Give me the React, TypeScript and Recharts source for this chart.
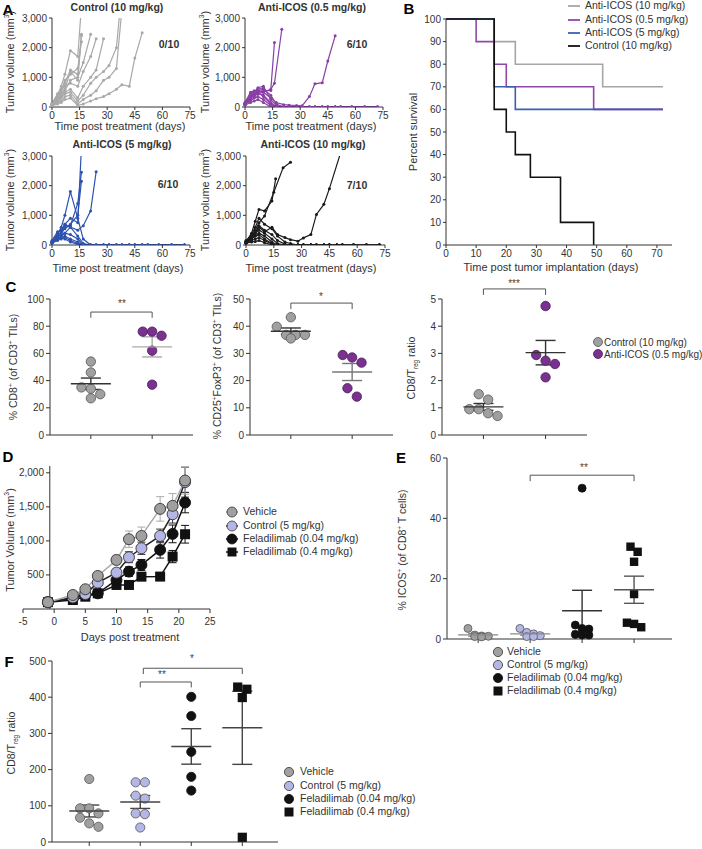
import React from "react";
import {
  LineChart,
  Line,
  ScatterChart,
  Scatter,
  ComposedChart,
  XAxis,
  YAxis,
  ErrorBar,
  ReferenceLine,
} from "recharts";

const FONT = "'Liberation Sans', Arial, Helvetica, sans-serif";
const INK = "#333";
const TICK = { fontSize: 10, fill: INK, fontFamily: FONT };

// ---- A: tumour volume per mouse, [day, mm3] ----
const freeDays = [21, 24, 28, 31, 35, 38, 42, 45, 49, 52, 58, 65, 72];

const controlMice = [
  [[0, 120], [3, 400], [5, 700], [7, 1100], [10, 1900], [14, 1700], [16, 3400]],
  [[0, 90], [3, 300], [5, 500], [7, 800], [10, 1250], [14, 1100], [16, 2450]],
  [[0, 70], [3, 250], [5, 400], [7, 600], [10, 1200], [14, 900], [16, 2400]],
  [[0, 100], [3, 350], [5, 550], [7, 900], [10, 1100], [14, 1300], [16, 2200]],
  [[0, 80], [3, 200], [5, 400], [7, 550], [10, 900], [14, 1000], [17, 1500], [21, 2450]],
  [[0, 110], [3, 450], [5, 600], [7, 700], [10, 800], [14, 700], [17, 1200], [21, 1700], [24, 2300]],
  [[0, 60], [3, 150], [5, 300], [7, 500], [10, 600], [14, 300], [17, 700], [21, 1000], [24, 1250], [28, 2300]],
  [[0, 90], [3, 200], [5, 350], [7, 450], [10, 500], [14, 200], [17, 400], [21, 800], [24, 1000], [28, 1200], [31, 1400], [35, 2000], [37, 3300]],
  [[0, 50], [3, 150], [5, 200], [7, 350], [10, 400], [14, 100], [17, 250], [21, 400], [24, 550], [28, 900], [31, 1000], [35, 1300], [38, 3300]],
  [[0, 40], [3, 100], [5, 150], [7, 250], [10, 300], [14, 50], [17, 100], [21, 200], [24, 280], [28, 350], [31, 450], [35, 600], [38, 750], [42, 700], [45, 1650], [49, 2500]],
];

const icos05Mice = [
  [[0, 100], [3, 300], [5, 450], [7, 500], [10, 550], [14, 560], [16, 2170]],
  [[0, 120], [3, 350], [5, 400], [7, 450], [10, 500], [14, 600], [16, 800], [20, 2620]],
  [[0, 100], [3, 400], [5, 450], [7, 550], [10, 500], [14, 300], [17, 150], [21, 80], [24, 60], [28, 50], [31, 40], [35, 350], [38, 780], [42, 820], [45, 1550], [49, 2400]],
  [[0, 130], [3, 450], [5, 500], [7, 650], [10, 700], [14, 250], [17, 50], [21, 0]],
  [[0, 90], [3, 300], [5, 400], [7, 550], [10, 600], [14, 400], [17, 100], [21, 0]],
  [[0, 70], [3, 250], [5, 350], [7, 450], [10, 400], [14, 150], [17, 0]],
  [[0, 150], [3, 500], [5, 550], [7, 500], [10, 350], [14, 100], [17, 0]],
  [[0, 100], [3, 200], [5, 300], [7, 350], [10, 250], [14, 50], [17, 0]],
  [[0, 60], [3, 150], [5, 200], [7, 250], [10, 150], [14, 0]],
  [[0, 110], [3, 350], [5, 500], [7, 600], [10, 650]],
];

const icos5Mice = [
  [[0, 100], [3, 300], [5, 450], [7, 700], [10, 900], [14, 750], [16, 3300]],
  [[0, 80], [3, 250], [5, 350], [7, 600], [10, 650], [14, 1400], [16, 2450]],
  [[0, 120], [3, 400], [5, 500], [7, 550], [10, 700], [14, 1000], [16, 2150]],
  [[0, 100], [3, 200], [5, 300], [7, 400], [10, 600], [14, 500], [17, 650], [21, 1150], [24, 2470]],
  [[0, 100], [3, 350], [5, 600], [7, 1000], [10, 1800], [14, 900], [17, 200], [21, 0]],
  [[0, 150], [3, 450], [5, 500], [7, 700], [10, 600], [14, 300], [17, 50], [21, 0]],
  [[0, 100], [3, 300], [5, 350], [7, 400], [10, 350], [14, 200], [17, 0]],
  [[0, 80], [3, 200], [5, 250], [7, 300], [10, 200], [14, 100], [17, 0]],
  [[0, 60], [3, 150], [5, 200], [7, 250], [10, 150], [14, 50], [17, 0]],
  [[0, 100], [3, 200], [5, 250], [7, 200], [10, 100], [14, 20], [17, 0]],
];

const icos10Mice = [
  [[0, 100], [3, 400], [5, 800], [7, 1200], [10, 1150], [14, 1480], [16, 2230]],
  [[0, 80], [3, 300], [5, 500], [7, 750], [10, 980], [15, 1780], [20, 2600], [24, 2790]],
  [[0, 100], [3, 250], [5, 400], [7, 600], [10, 450], [14, 600], [17, 350], [21, 250], [24, 180], [28, 130], [31, 240], [35, 350], [38, 1030], [42, 1370], [45, 1900], [52, 3300]],
  [[0, 150], [3, 350], [5, 600], [7, 900], [10, 700], [14, 550], [17, 300], [21, 100], [24, 50], [28, 0]],
  [[0, 80], [3, 250], [5, 400], [7, 650], [10, 500], [14, 350], [17, 150], [21, 30], [24, 0]],
  [[0, 100], [3, 300], [5, 400], [7, 500], [10, 400], [14, 200], [17, 50], [21, 0]],
  [[0, 60], [3, 200], [5, 300], [7, 400], [10, 300], [14, 100], [17, 0]],
  [[0, 120], [3, 250], [5, 300], [7, 350], [10, 200], [14, 50], [17, 0]],
  [[0, 90], [3, 150], [5, 200], [7, 250], [10, 150], [14, 30], [17, 0]],
  [[0, 70], [3, 100], [5, 120], [7, 150], [10, 80], [14, 0]],
];

// ---- B: percent survival, [day, %] ----
const survIcos10 = [[0, 100], [16, 90], [23, 80], [52, 70], [72, 70]];
const survIcos05 = [[0, 100], [10, 90], [16, 80], [20, 70], [49, 60], [72, 60]];
const survIcos5 = [[0, 100], [16, 70], [23, 60], [72, 60]];
const survControl = [[0, 100], [16, 60], [20, 50], [23, 40], [28, 30], [38, 10], [49, 0]];

// ---- C: TIL phenotypes ----
const cd8Control = [54, 46, 35, 34, 30, 27];
const cd8Icos = [76, 76, 73, 62, 37];
const tregControl = [43.3, 39.8, 36.8, 36.8, 36.8, 35.5];
const tregIcos = [29.4, 28.5, 26.6, 17.2, 14.1];
const ratioControl = [1.5, 1.3, 0.95, 0.95, 0.8, 0.7];
const ratioIcos = [4.74, 2.94, 2.73, 2.61, 2.12];

// ---- D: mean tumour volume ----
const dDays = [-1, 3, 5, 7, 10, 12, 14, 17, 19, 21];
const vehMean = [100, 206, 290, 485, 720, 1025, 1073, 1470, 1515, 1887];
const vehSem = [10, 20, 25, 40, 70, 120, 130, 180, 180, 200];
const ctlMean = [100, 170, 220, 387, 534, 760, 892, 1073, 1392, 1863];
const ctlSem = [10, 15, 20, 30, 50, 80, 90, 100, 130, 220];
const fLowMean = [100, 157, 206, 230, 426, 549, 647, 868, 1103, 1563];
const fLowSem = [10, 15, 20, 25, 60, 70, 80, 120, 130, 150];
const fHighMean = [100, 132, 181, 230, 353, 353, 475, 476, 770, 1098];
const fHighSem = [10, 10, 15, 20, 40, 40, 50, 50, 90, 130];

// ---- E: % ICOS+ of CD8+ ----
const icosVeh = [1.0, 0.9, 0.8, 1.3, 3.5, 0.7];
const icosCtl = [1.7, 1.1, 2.2, 0.8, 3.5, 0.8];
const icosFLow = [50, 3.5, 3.3, 1.5, 4.6, 1.3, 1.3];
const icosFHigh = [25.6, 30.6, 28.9, 14.9, 5.4, 5.0, 3.9];

// ---- F: CD8/Treg ratio ----
const ratioVeh = [174, 93, 93, 79, 67, 51.5, 42];
const ratioCtl = [165, 165, 128, 120, 79, 77, 40];
const ratioFLow = [401, 348, 249, 180, 142];
const ratioFHigh = [428, 422, 399, 13];

// colours
const A_GRAY = "#a9a9a9";
const A_PURPLE = "#8a3fa6";
const A_BLUE = "#2d52b0";
const A_BLACK = "#1a1a1a";
const DOT_GRAY = "#a0a0a0";
const DOT_PURPLE = "#7a3190";
const LAV = "#b4b7e5";
const BLK = "#111";

const comma = (v: number) => v.toLocaleString("en-US");
const mean = (a: number[]) => a.reduce((s, v) => s + v, 0) / a.length;
const sem = (a: number[]) => {
  const m = mean(a);
  return Math.sqrt(a.reduce((s, v) => s + (v - m) ** 2, 0) / (a.length - 1) / a.length);
};

const track = (pts: number[][]) => {
  const last = pts[pts.length - 1];
  const tail = last[1] === 0 ? freeDays.filter((d) => d > last[0]).map((d) => [d, 0]) : [];
  return [...pts, ...tail].map(([d, v]) => ({ d, v }));
};
const steps = (pts: number[][]) => pts.map(([d, v]) => ({ d, v }));

// GraphPad-like scatter spread: rows of close values are spread symmetrically
function swarm(vals: number[], at: number, pxX: number, pxY: number, diam: number, gap: number) {
  const sorted = [...vals].sort((a, b) => b - a);
  const rows: number[][] = [];
  for (const v of sorted) {
    const row = rows[rows.length - 1];
    if (row && (row[0] - v) * pxY < diam) row.push(v);
    else rows.push([v]);
  }
  return rows.flatMap((row) => row.map((v, k) => ({ x: at + ((k - (row.length - 1) / 2) * gap) / pxX, y: v })));
}

type Box = { x0: number; y0: number; x1: number; y1: number };
function frame(b: Box, l: number, t: number, r: number, bt: number) {
  return {
    style: { position: "absolute" as const, left: b.x0 - l, top: b.y0 - t },
    width: b.x1 - b.x0 + l + r,
    height: b.y1 - b.y0 + t + bt,
    margin: { top: t, right: r, bottom: 0, left: 0 },
    yw: l,
    xh: bt,
  };
}

function T({ x, y, children, size = 11, bold = false, rotate = false, anchor = "middle", color = INK }: any) {
  const tx = anchor === "middle" ? "-50%" : anchor === "end" ? "-100%" : "0";
  return (
    <div
      style={{
        position: "absolute",
        left: x,
        top: y,
        transform: `translate(${tx}, -50%)${rotate ? " rotate(-90deg)" : ""}`,
        fontSize: size,
        fontWeight: bold ? 700 : 400,
        whiteSpace: "nowrap",
        lineHeight: 1.1,
        color,
      }}
    >
      {children}
    </div>
  );
}

function Key({ x, y, tx, label, size = 10.5, children }: any) {
  return (
    <>
      <svg width={24} height={14} style={{ position: "absolute", left: x - 12, top: y - 7, overflow: "visible" }}>
        {children}
      </svg>
      <T x={tx} y={y} size={size} anchor="start">
        {label}
      </T>
    </>
  );
}

function MiceChart({ box, mice, color }: any) {
  const f = frame(box, 40, 6, 8, 18);
  return (
    <div style={f.style}>
      <LineChart width={f.width} height={f.height} margin={f.margin}>
        <XAxis type="number" dataKey="d" domain={[0, 75]} ticks={[0, 15, 30, 45, 60, 75]} interval={0} height={f.xh} tick={TICK} tickSize={3} stroke={INK} />
        <YAxis type="number" domain={[0, 3000]} ticks={[0, 1000, 2000, 3000]} interval={0} allowDataOverflow width={f.yw} tick={TICK} tickSize={3} stroke={INK} tickFormatter={comma} />
        {mice.map((m: number[][], i: number) => (
          <Line
            key={i}
            data={track(m)}
            dataKey="v"
            stroke={color}
            strokeWidth={1.2}
            dot={{ r: 1.5, fill: color, stroke: color, strokeWidth: 0 }}
            isAnimationActive={false}
          />
        ))}
      </LineChart>
    </div>
  );
}

const bracketLines = (b: any, key: string) => [
  <ReferenceLine key={key + "h"} segment={[{ x: b.x1, y: b.y }, { x: b.x2, y: b.y }]} stroke="#555" ifOverflow="visible" />,
  <ReferenceLine key={key + "l"} segment={[{ x: b.x1, y: b.y }, { x: b.x1, y: b.leg }]} stroke="#555" ifOverflow="visible" />,
  <ReferenceLine key={key + "r"} segment={[{ x: b.x2, y: b.y }, { x: b.x2, y: b.leg }]} stroke="#555" ifOverflow="visible" />,
];

function DotPlot({ box, xMax, yMax, yTicks, groups, brackets = [], t = 8, gapK = 1 }: any) {
  const f = frame(box, 34, t, 6, 10);
  const pxX = (box.x1 - box.x0) / xMax;
  const pxY = (box.y1 - box.y0) / yMax;
  return (
    <div style={f.style}>
      <ScatterChart width={f.width} height={f.height} margin={f.margin}>
        <XAxis type="number" dataKey="x" domain={[0, xMax]} ticks={groups.map((g: any) => g.at)} interval={0} tickFormatter={() => ""} height={f.xh} tickSize={4} stroke={INK} />
        <YAxis type="number" dataKey="y" domain={[0, yMax]} ticks={yTicks} interval={0} width={f.yw} tick={TICK} tickSize={4} stroke={INK} />
        {brackets.flatMap((b: any, i: number) => bracketLines(b, "b" + i))}
        {groups.map((g: any, i: number) => (
          <Scatter
            key={"p" + i}
            data={swarm(g.vals, g.at, pxX, pxY, 2 * g.r, 2 * g.r * gapK)}
            isAnimationActive={false}
            shape={(p: any) =>
              g.square ? (
                <rect x={p.cx - g.r} y={p.cy - g.r} width={2 * g.r} height={2 * g.r} fill={g.fill} />
              ) : (
                <circle cx={p.cx} cy={p.cy} r={g.r} fill={g.fill} stroke={g.stroke} strokeWidth={0.8} />
              )
            }
          />
        ))}
        {groups.map((g: any, i: number) => (
          <Scatter
            key={"m" + i}
            data={[{ x: g.at, y: mean(g.vals), e: sem(g.vals) }]}
            isAnimationActive={false}
            shape={(p: any) => (
              <line x1={p.cx - 20} x2={p.cx + 20} y1={p.cy} y2={p.cy} stroke={g.meanColor || "#444"} strokeWidth={1.4} />
            )}
          >
            <ErrorBar dataKey="e" direction="y" width={10} stroke={g.meanColor || "#444"} strokeWidth={1.4} />
          </Scatter>
        ))}
      </ScatterChart>
    </div>
  );
}

const dTable = dDays.map((d, i) => ({
  d,
  veh: vehMean[i],
  vehE: vehSem[i],
  ctl: ctlMean[i],
  ctlE: ctlSem[i],
  lo: fLowMean[i],
  loE: fLowSem[i],
  hi: fHighMean[i],
  hiE: fHighSem[i],
}));

function GrowthChart() {
  const box = { x0: 23, y0: 466, x1: 210, y1: 609 };
  const f = frame(box, 20, 8, 8, 22);
  const axisShift = 27; // y axis drawn near day -0.7, not at the plot edge
  const yTick = (p: any) => (
    <g>
      <line x1={f.yw + axisShift - 4} x2={f.yw + axisShift} y1={p.y} y2={p.y} stroke={INK} />
      <text x={f.yw + axisShift - 6} y={p.y} dy={3.5} textAnchor="end" {...TICK}>
        {comma(p.payload.value)}
      </text>
    </g>
  );
  const circle = (fill: string, stroke: string) => (p: any) => (
    <circle key={p.index} cx={p.cx} cy={p.cy} r={5.5} fill={fill} stroke={stroke} strokeWidth={0.9} />
  );
  const square = (p: any) => <rect key={p.index} x={p.cx - 5} y={p.cy - 5} width={10} height={10} fill={BLK} />;
  return (
    <div style={f.style}>
      <ComposedChart width={f.width} height={f.height} margin={f.margin} data={dTable}>
        <XAxis type="number" dataKey="d" domain={[-5, 25]} ticks={[-5, 0, 5, 10, 15, 20, 25]} interval={0} height={f.xh} tick={TICK} tickSize={4} tickMargin={5} stroke={INK} />
        <YAxis type="number" domain={[0, 2100]} ticks={[500, 1000, 1500, 2000]} interval={0} width={f.yw} axisLine={false} tickLine={false} tick={yTick} />
        <ReferenceLine x={-0.7} stroke={INK} />
        <Line dataKey="hi" stroke={BLK} strokeWidth={1.5} dot={square} isAnimationActive={false}>
          <ErrorBar dataKey="hiE" width={4} stroke={BLK} strokeWidth={1} />
        </Line>
        <Line dataKey="lo" stroke={BLK} strokeWidth={1.5} dot={circle(BLK, BLK)} isAnimationActive={false}>
          <ErrorBar dataKey="loE" width={4} stroke={BLK} strokeWidth={1} />
        </Line>
        <Line dataKey="ctl" stroke="#222" strokeWidth={1.5} dot={circle(LAV, "#333")} isAnimationActive={false}>
          <ErrorBar dataKey="ctlE" width={4} stroke="#333" strokeWidth={1} />
        </Line>
        <Line dataKey="veh" stroke="#aaa" strokeWidth={1.5} dot={circle(DOT_GRAY, "#333")} isAnimationActive={false}>
          <ErrorBar dataKey="vehE" width={4} stroke="#aaa" strokeWidth={1} />
        </Line>
      </ComposedChart>
    </div>
  );
}

function SurvivalChart() {
  const box = { x0: 446, y0: 19, x1: 672, y1: 245 };
  const f = frame(box, 30, 8, 8, 18);
  const series = [
    { d: survIcos10, c: "#a6a6a6" },
    { d: survIcos05, c: "#9146ac" },
    { d: survIcos5, c: "#3c5fb5" },
    { d: survControl, c: "#111" },
  ];
  return (
    <div style={f.style}>
      <LineChart width={f.width} height={f.height} margin={f.margin}>
        <XAxis type="number" dataKey="d" domain={[0, 75]} ticks={[0, 10, 20, 30, 40, 50, 60, 70]} interval={0} height={f.xh} tick={TICK} tickSize={3} stroke={INK} />
        <YAxis type="number" domain={[0, 100]} ticks={[0, 10, 20, 30, 40, 50, 60, 70, 80, 90, 100]} interval={0} width={f.yw} tick={TICK} tickSize={3} stroke={INK} />
        {series.map((s, i) => (
          <Line key={i} type="stepAfter" data={steps(s.d)} dataKey="v" stroke={s.c} strokeWidth={1.6} dot={false} isAnimationActive={false} />
        ))}
      </LineChart>
    </div>
  );
}

const sup = (s: string) => <sup style={{ fontSize: "0.62em", lineHeight: 0 }}>{s}</sup>;
const sub = (s: string) => <sub style={{ fontSize: "0.6em", lineHeight: 0 }}>{s}</sub>;

export default function App() {
  const cGroups = (ctl: number[], icos: number[], icosMean: string) => [
    { vals: ctl, at: 1, r: 4.7, fill: DOT_GRAY, stroke: "#555", meanColor: "#333" },
    { vals: icos, at: 2.5, r: 4.7, fill: DOT_PURPLE, stroke: "#4a1d58", meanColor: icosMean },
  ];
  const eGroups = [
    { vals: icosVeh, at: 0.6, r: 4, fill: DOT_GRAY, stroke: "#555", meanColor: "#888" },
    { vals: icosCtl, at: 1.6, r: 4, fill: LAV, stroke: "#555", meanColor: "#888" },
    { vals: icosFLow, at: 2.6, r: 4, fill: BLK, stroke: BLK, meanColor: "#333" },
    { vals: icosFHigh, at: 3.6, r: 4.2, fill: BLK, stroke: BLK, meanColor: "#555", square: true },
  ];
  const fGroups = [
    { vals: ratioVeh, at: 0.73, r: 4.6, fill: DOT_GRAY, stroke: "#555", meanColor: "#444" },
    { vals: ratioCtl, at: 1.73, r: 4.6, fill: LAV, stroke: "#555", meanColor: "#444" },
    { vals: ratioFLow, at: 2.73, r: 4.6, fill: BLK, stroke: BLK, meanColor: "#444" },
    { vals: ratioFHigh, at: 3.73, r: 4.6, fill: BLK, stroke: BLK, meanColor: "#444", square: true },
  ];
  const legend4 = (x: number, tx: number, rows: number[], line: boolean) => {
    const items = [
      { label: "Vehicle", fill: DOT_GRAY, stroke: "#333", sq: false, lc: "#aaa" },
      { label: "Control (5 mg/kg)", fill: LAV, stroke: "#333", sq: false, lc: "#333" },
      { label: "Feladilimab (0.04 mg/kg)", fill: BLK, stroke: BLK, sq: false, lc: BLK },
      { label: "Feladilimab (0.4 mg/kg)", fill: BLK, stroke: BLK, sq: true, lc: BLK },
    ];
    return items.map((it, i) => (
      <Key key={it.label} x={x} y={rows[i]} tx={tx} label={it.label}>
        {line && <line x1={6} x2={18} y1={7} y2={7} stroke={it.lc} strokeWidth={1.5} />}
        {it.sq ? (
          <rect x={7.5} y={2.5} width={9} height={9} fill={BLK} />
        ) : (
          <circle cx={12} cy={7} r={line ? 5 : 4.6} fill={it.fill} stroke={it.stroke} strokeWidth={0.8} />
        )}
      </Key>
    ));
  };

  return (
    <div style={{ position: "relative", width: 702, height: 849, background: "#fff", fontFamily: FONT, color: INK, overflow: "hidden" }}>
      <style>{"body{margin:0}"}</style>

      {/* A */}
      <T x={8} y={10} size={15} bold color="#000">A</T>
      <T x={117} y={8} size={10.5} bold>Control (10 mg/kg)</T>
      <T x={312} y={8} size={10.5} bold>Anti-ICOS (0.5 mg/kg)</T>
      <T x={122} y={145} size={10.5} bold>Anti-ICOS (5 mg/kg)</T>
      <T x={313} y={145} size={10.5} bold>Anti-ICOS (10 mg/kg)</T>
      <MiceChart box={{ x0: 52, y0: 18, x1: 190, y1: 107 }} mice={controlMice} color={A_GRAY} />
      <MiceChart box={{ x0: 245, y0: 18, x1: 383, y1: 107 }} mice={icos05Mice} color={A_PURPLE} />
      <MiceChart box={{ x0: 52, y0: 156, x1: 190, y1: 245 }} mice={icos5Mice} color={A_BLUE} />
      <MiceChart box={{ x0: 246, y0: 156, x1: 385, y1: 245 }} mice={icos10Mice} color={A_BLACK} />
      <T x={169} y={45} size={10.5} bold>0/10</T>
      <T x={357} y={45} size={10.5} bold>6/10</T>
      <T x={168} y={185} size={10.5} bold>6/10</T>
      <T x={357} y={186} size={10.5} bold>7/10</T>
      {[
        [10, 62],
        [205, 62],
        [10, 200],
        [205, 200],
      ].map(([x, y], i) => (
        <T key={i} x={x} y={y} rotate size={11}>
          Tumor volume (mm{sup("3")})
        </T>
      ))}
      <T x={120} y={126} size={11}>Time post treatment (days)</T>
      <T x={311} y={126} size={11}>Time post treatment (days)</T>
      <T x={118} y={268} size={11}>Time post treatment (days)</T>
      <T x={311} y={268} size={11}>Time post treatment (days)</T>

      {/* B */}
      <T x={409} y={9} size={15} bold color="#000">B</T>
      <SurvivalChart />
      <T x={413} y={132} rotate size={11}>Percent survival</T>
      <T x={551} y={267} size={11}>Time post tumor implantation (days)</T>
      {[
        { label: "Anti-ICOS (10 mg/kg)", c: "#a6a6a6" },
        { label: "Anti-ICOS (0.5 mg/kg)", c: "#9146ac" },
        { label: "Anti-ICOS (5 mg/kg)", c: "#3c5fb5" },
        { label: "Control (10 mg/kg)", c: "#111" },
      ].map((it, i) => (
        <Key key={it.label} x={574} y={[6, 20, 33, 46][i]} tx={585} label={it.label}>
          <line x1={6} x2={18} y1={7} y2={7} stroke={it.c} strokeWidth={1.8} />
        </Key>
      ))}

      {/* C */}
      <T x={11} y={287} size={15} bold color="#000">C</T>
      <DotPlot
        box={{ x0: 50, y0: 299, x1: 193, y1: 435 }}
        xMax={3.5}
        yMax={100}
        yTicks={[0, 20, 40, 60, 80, 100]}
        t={16}
        groups={cGroups(cd8Control, cd8Icos, "#aaa")}
        brackets={[{ x1: 1, x2: 2.5, y: 90.4, leg: 86.2 }]}
      />
      <DotPlot
        box={{ x0: 250, y0: 299, x1: 393, y1: 435 }}
        xMax={3.5}
        yMax={50}
        yTicks={[0, 10, 20, 30, 40, 50]}
        t={16}
        groups={cGroups(tregControl, tregIcos, "#777")}
        brackets={[{ x1: 1, x2: 2.5, y: 48.5, leg: 46.3 }]}
      />
      <DotPlot
        box={{ x0: 442, y0: 299, x1: 587, y1: 435 }}
        xMax={3.5}
        yMax={5}
        yTicks={[0, 1, 2, 3, 4, 5]}
        t={16}
        groups={cGroups(ratioControl, ratioIcos, "#333")}
        brackets={[{ x1: 1, x2: 2.5, y: 5.37, leg: 5.15 }]}
      />
      <T x={122} y={303} size={10} color="#444">**</T>
      <T x={321} y={296} size={10} color="#444">*</T>
      <T x={514} y={283} size={10} color="#444">***</T>
      <T x={14} y={367} rotate size={10.5}>
        % CD8{sup("+")} (of CD3{sup("+")} TILs)
      </T>
      <T x={218} y={366} rotate size={10.5}>
        % CD25{sup("+")}FoxP3{sup("+")} (of CD3{sup("+")} TILs)
      </T>
      <T x={412} y={368} rotate size={10.5}>
        CD8/T{sub("reg")} ratio
      </T>
      <Key x={598} y={342} tx={604} size={10} label="Control (10 mg/kg)">
        <circle cx={12} cy={7} r={4.5} fill={DOT_GRAY} stroke="#555" strokeWidth={0.8} />
      </Key>
      <Key x={598} y={354} tx={604} size={10} label="Anti-ICOS (0.5 mg/kg)">
        <circle cx={12} cy={7} r={4.5} fill={DOT_PURPLE} stroke="#4a1d58" strokeWidth={0.8} />
      </Key>

      {/* D */}
      <T x={8} y={457} size={15} bold color="#000">D</T>
      <GrowthChart />
      <T x={10} y={540} rotate size={11}>
        Tumor Volume (mm{sup("3")})
      </T>
      <T x={130} y={637} size={11}>Days post treatment</T>
      {legend4(232, 243, [512, 526, 539, 552], true)}

      {/* E */}
      <T x={401} y={458} size={15} bold color="#000">E</T>
      <DotPlot
        box={{ x0: 447, y0: 458, x1: 672, y1: 639 }}
        xMax={4.33}
        yMax={60}
        yTicks={[0, 20, 40, 60]}
        groups={eGroups}
        gapK={0.85}
        brackets={[{ x1: 1.6, x2: 3.6, y: 54.3, leg: 52.3 }]}
      />
      <T x={584} y={467} size={10} color="#444">**</T>
      <T x={403} y={550} rotate size={10.5}>
        % ICOS{sup("+")} (of CD8{sup("+")} T cells)
      </T>
      {legend4(498, 507, [652, 665, 678, 691], false)}

      {/* F */}
      <T x={9} y={662} size={15} bold color="#000">F</T>
      <DotPlot
        box={{ x0: 52, y0: 661, x1: 278, y1: 842 }}
        xMax={4.43}
        yMax={500}
        yTicks={[0, 100, 200, 300, 400, 500]}
        groups={fGroups}
        brackets={[
          { x1: 1.73, x2: 2.73, y: 442, leg: 427 },
          { x1: 1.79, x2: 3.73, y: 480, leg: 464 },
        ]}
      />
      <T x={162} y={674} size={10} color="#444">**</T>
      <T x={192} y={658} size={10} color="#444">*</T>
      <T x={12} y={743} rotate size={10.5}>
        CD8/T{sub("reg")} ratio
      </T>
      {legend4(289, 300, [772, 786, 799, 812], false)}
    </div>
  );
}
